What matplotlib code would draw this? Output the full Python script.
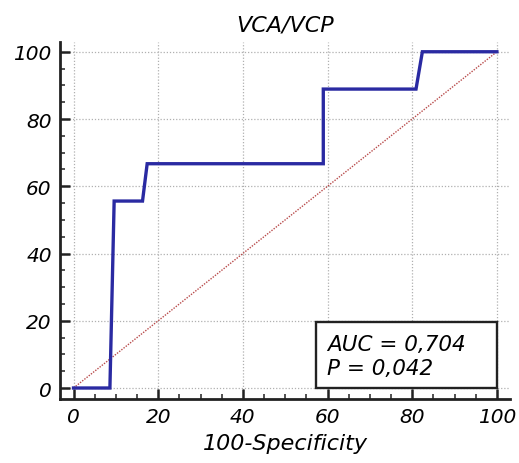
import matplotlib
matplotlib.use("Agg")
import matplotlib.pyplot as plt
from matplotlib.patches import Rectangle
from matplotlib.ticker import MultipleLocator

# ROC curve points (100-Specificity, Sensitivity)
fpr = [0, 8.6, 9.6, 16.3, 17.4, 59.0, 59.0, 80.9, 82.4, 100]
tpr = [0, 0, 55.6, 55.6, 66.7, 66.7, 88.9, 88.9, 100, 100]
diag = [0, 100]
title = "VCA/VCP"
xlabel = "100-Specificity"
auc_text = "AUC = 0,704"
p_text = "P = 0,042"
ticks = [0, 20, 40, 60, 80, 100]

plt.rcParams['font.family'] = ['DejaVu Sans']
FS = 14.5
W, H = 519, 464
fig = plt.figure(figsize=(W / 100, H / 100), dpi=100)
left, right, bottom, top = 60, 510, 400, 43
ax = fig.add_axes([left / W, (H - bottom) / H, (right - left) / W, (bottom - top) / H])

ax.set_xlim(-3.19, 103.1)
ax.set_ylim(-3.27, 102.9)

ax.plot(diag, diag, color='#b84a4a', lw=1.0, ls=(0, (1, 1)), zorder=2)
ax.plot(fpr, tpr, color='#2a2aa2', lw=2.4, zorder=3, solid_joinstyle='miter')

ax.set_xticks(ticks)
ax.set_yticks(ticks)
ax.xaxis.set_minor_locator(MultipleLocator(5))
ax.yaxis.set_minor_locator(MultipleLocator(5))
ax.grid(True, which='major', color='#b0b0b0', ls=(0, (1, 1.5)), lw=0.9, zorder=1)

for s in ['top', 'right']:
    ax.spines[s].set_visible(False)
for s in ['left', 'bottom']:
    ax.spines[s].set_linewidth(2.0)
    ax.spines[s].set_color('#222222')

ax.tick_params(which='major', direction='in', length=7, width=1.8, color='#222222',
               labelsize=FS, pad=6)
ax.tick_params(which='minor', direction='in', length=3.5, width=1.1, color='#222222')
for lab in ax.get_xticklabels() + ax.get_yticklabels():
    lab.set_fontstyle('italic')

ax.set_title(title, fontsize=16, fontstyle='italic', pad=8)
ax.set_xlabel(xlabel, fontsize=16, fontstyle='italic', labelpad=5)

ax.add_patch(Rectangle((57.2, 0), 42.8, 19.5, facecolor='white', edgecolor='#222222',
                       lw=1.7, zorder=4))
ax.text(59.8, 11.4, auc_text, fontsize=15.5, fontstyle='italic', zorder=5, va='baseline')
ax.text(59.8, 4.2, p_text, fontsize=15.5, fontstyle='italic', zorder=5, va='baseline')

fig.savefig("out.png", dpi=100)
